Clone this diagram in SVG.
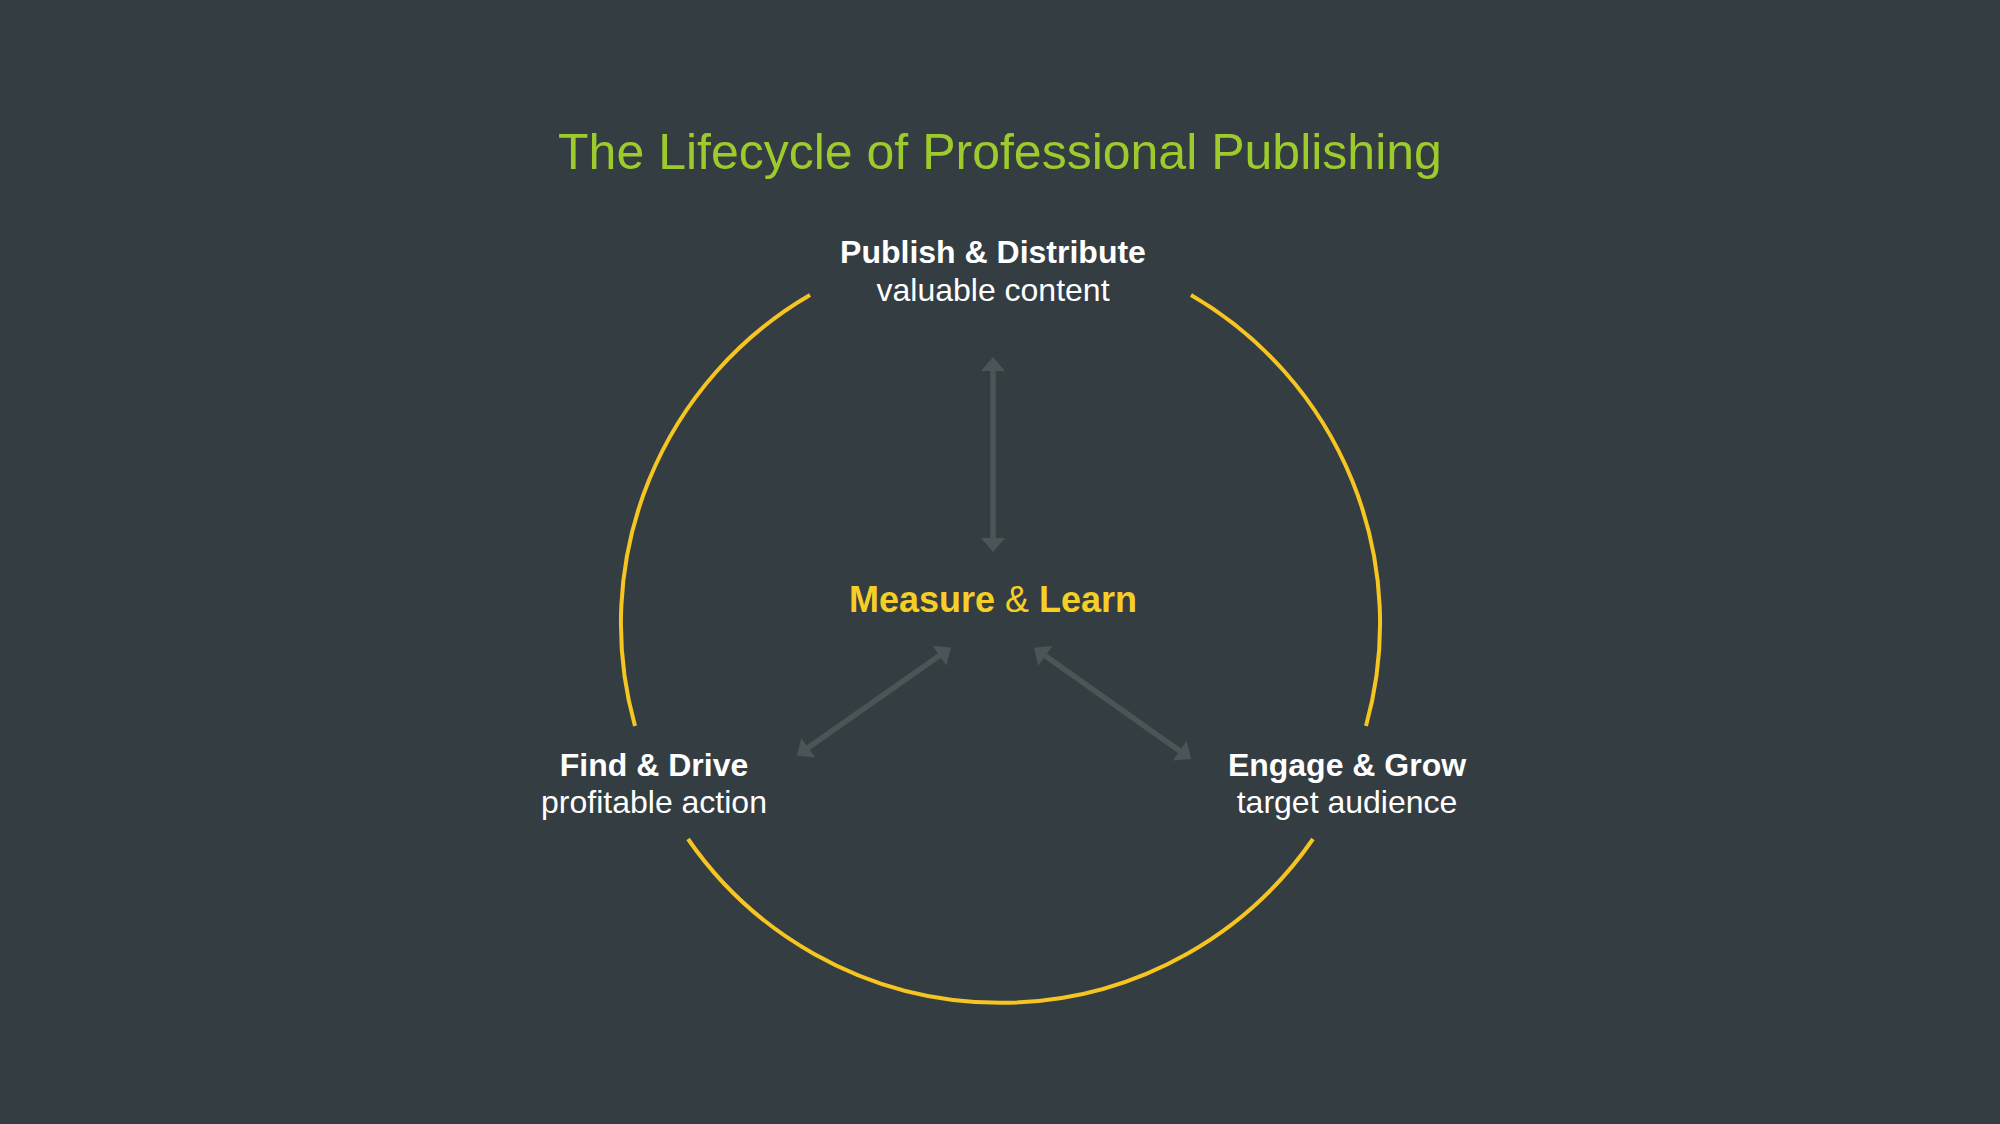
<svg xmlns="http://www.w3.org/2000/svg" width="2000" height="1124" viewBox="0 0 2000 1124">
  <style>
    text { font-family: "Liberation Sans", Arial, Helvetica, sans-serif; text-anchor: middle; }
    .title { font-size: 50px; fill: #9dcb2c; }
    .head { font-size: 32px; font-weight: bold; fill: #ffffff; }
    .sub { font-size: 32px; fill: #ffffff; }
    .center { font-size: 36px; font-weight: bold; fill: #f6cf26; }
    .amp { font-weight: normal; }
    .ring { fill: none; stroke: #f7c521; stroke-width: 4; }
    .link { fill: none; stroke: #4c5556; stroke-width: 5.5; marker-start: url(#ah); marker-end: url(#ah); }
  </style>
  <defs>
    <marker id="ah" markerUnits="userSpaceOnUse" markerWidth="17" markerHeight="26" viewBox="0 -13 15 26" refX="1" refY="0" orient="auto-start-reverse">
      <path d="M0,-12 L14,0 L0,12 Z" fill="#4c5556"/>
    </marker>
  </defs>
  <rect x="0" y="0" width="2000" height="1124" fill="#343d42"/>

  <text class="title" x="1000" y="169">The Lifecycle of Professional Publishing</text>

  <g id="cycle-ring">
    <path class="ring" d="M 810 295 A 380 380 0 0 0 635 726"/>
    <path class="ring" d="M 688 839 A 380 380 0 0 0 1313 839"/>
    <path class="ring" d="M 1366 726 A 380 380 0 0 0 1191 295"/>
  </g>

  <g id="connectors">
    <path class="link" d="M 993 370 L 993 539"/>
    <path class="link" d="M 940.3 655 L 807.4 748.3"/>
    <path class="link" d="M 1044.5 655.3 L 1180.5 751.4"/>
  </g>

  <g id="node-publish">
    <text class="head" x="993" y="263">Publish &amp; Distribute</text>
    <text class="sub" x="993" y="301">valuable content</text>
  </g>

  <g id="node-measure">
    <text class="center" x="993" y="612">Measure <tspan class="amp">&amp;</tspan> Learn</text>
  </g>

  <g id="node-find">
    <text class="head" x="654" y="776">Find &amp; Drive</text>
    <text class="sub" x="654" y="813">profitable action</text>
  </g>

  <g id="node-engage">
    <text class="head" x="1347" y="776">Engage &amp; Grow</text>
    <text class="sub" x="1347" y="813">target audience</text>
  </g>
</svg>
